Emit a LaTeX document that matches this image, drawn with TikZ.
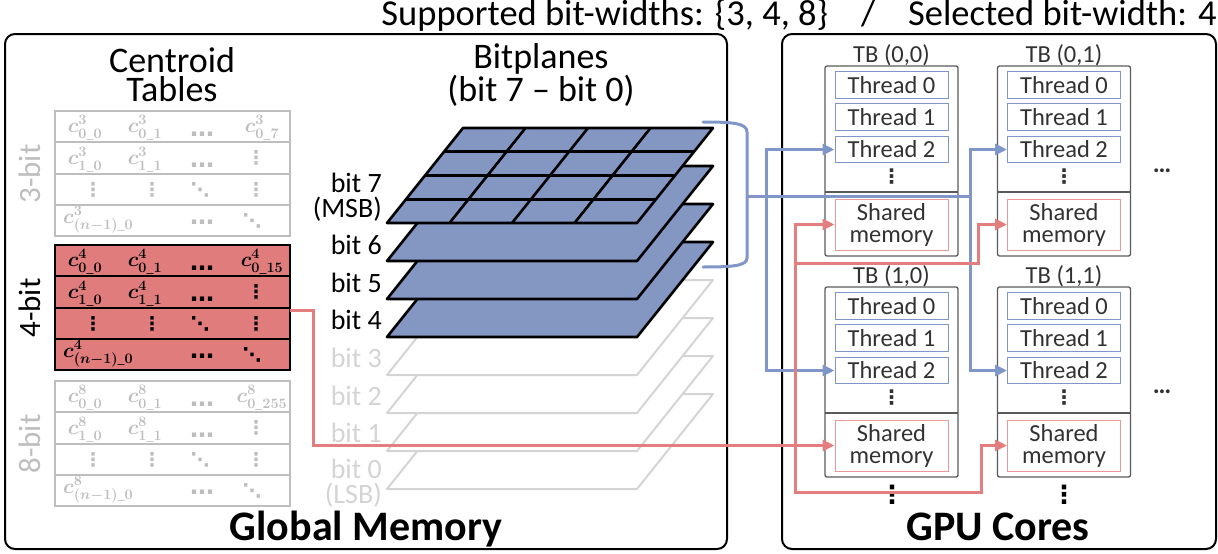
\documentclass[tikz,border=0pt]{standalone}
\usepackage{amsmath,amssymb}
\usepackage[no-math]{fontspec}
\setmainfont{Carlito}
\newfontfamily\dotfont{DejaVu Sans}
\usepackage{xcolor}
\usetikzlibrary{arrows.meta}

\definecolor{planeblue}{RGB}{132,151,195}
\definecolor{tabred}{RGB}{224,124,124}
\definecolor{lineblue}{RGB}{128,150,200}
\definecolor{linered}{RGB}{228,126,126}
\definecolor{tabgrey}{RGB}{190,190,190}
\definecolor{planegrey}{RGB}{212,212,212}
\definecolor{tbgrey}{RGB}{90,90,90}
\definecolor{txtgrey}{RGB}{50,50,50}

\begin{document}
\begin{tikzpicture}[x=1pt,y=-1pt]
	\tikzstyle{panel} = [draw=black, line width=2, rounded corners=10]
	\tikzstyle{tbbox} = [draw=tbgrey, line width=1.3, rounded corners=2]
	\tikzstyle{thread} = [draw=lineblue, line width=1, minimum width=113, minimum height=26.5, inner sep=0, text=txtgrey, font=\fontsize{24.5}{26}\selectfont]
	\tikzstyle{shmem} = [draw=linered!80, line width=1, minimum width=113, minimum height=51, inner sep=0, align=center, text=txtgrey, font=\fontsize{24.5}{22}\selectfont]
	\tikzstyle{gplane} = [draw=planegrey, fill=white, line width=2, line join=round]
	\tikzstyle{bplane} = [draw=black, fill=planeblue, line width=2.6, line join=round]
	\tikzstyle{bline} = [draw=lineblue, line width=3]
	\tikzstyle{rline} = [draw=linered, line width=3]
	\tikzstyle{tip} = [-{Triangle[length=12,width=11]}]
	\tikzstyle{dots} = [inner sep=0, font=\dotfont\bfseries\fontsize{19}{19}\selectfont]
	\tikzstyle{entry} = [inner sep=0, font=\fontsize{20}{20}\selectfont\boldmath]
	\tikzstyle{bitlabel} = [anchor=east, align=right, inner sep=1, font=\fontsize{28}{25}\selectfont]
	\useasboundingbox (0,0) rectangle (1218,554);

	% title and panels
	\node[anchor=base east, inner sep=0, font=\fontsize{36.5}{36}\selectfont] (title) at (1217,25)
		{Supported bit-widths: \{3, 4, 8\}\ \ \ \ /\ \ \ \ Selected bit-width: 4};
	\draw[panel] (5,34) rectangle (727,549);
	\draw[panel] (782,34) rectangle (1216,549);
	\node[anchor=base, inner sep=0, font=\fontsize{42}{42}\selectfont\bfseries] (gm) at (366,540) {Global Memory};
	\node[anchor=base, inner sep=0, font=\fontsize{42}{42}\selectfont\bfseries] (gc) at (998,540) {GPU Cores};
	\node[align=center, inner sep=0, font=\fontsize{36}{29}\selectfont] (ctab) at (172,75) {Centroid\\Tables};
	\node[align=center, inner sep=0, font=\fontsize{36}{29}\selectfont] (bpl) at (541,75) {Bitplanes\\(bit 7 -- bit 0)};

	% centroid tables
	\foreach \ty/\s/\l/\col/\fil/\nm in {111/3/7/tabgrey/white/3-bit, 245/4/15/black/tabred/4-bit, 381/8/255/tabgrey/white/8-bit} {
		\foreach \r in {0,...,3}
			\draw[draw=\col, fill=\fil, line width=2] (55,\ty+31.3*\r) rectangle (290,\ty+31.3*\r+31.3);
		\begin{scope}[\col]
			\node[entry, anchor=base] at (85,\ty+21.5) {$c^{\s}_{0\_0}$};
			\node[entry, anchor=base] at (145,\ty+21.5) {$c^{\s}_{0\_1}$};
			\node[entry, anchor=base] at (262,\ty+21.5) {$c^{\s}_{0\_\l}$};
			\node[entry, anchor=base] at (85,\ty+53) {$c^{\s}_{1\_0}$};
			\node[entry, anchor=base] at (145,\ty+53) {$c^{\s}_{1\_1}$};
			\node[entry, anchor=base west] at (63,\ty+112) {$c^{\s}_{(n-1)\_0}$};
			\node[dots, anchor=base] at (202,\ty+25) {\bfseries\fontsize{24}{24}\selectfont …};
			\node[dots, anchor=base] at (202,\ty+56) {\bfseries\fontsize{24}{24}\selectfont …};
			\node[dots, anchor=base] at (202,\ty+113) {\bfseries\fontsize{24}{24}\selectfont …};
			\node[dots] at (256,\ty+47) {⋮};
			\node[dots] at (93,\ty+79) {⋮};
			\node[dots] at (152,\ty+79) {⋮};
			\node[dots] at (200,\ty+79) {⋱};
			\node[dots] at (256,\ty+79) {⋮};
			\node[dots] at (252,\ty+110) {⋱};
		\end{scope}
		\node[rotate=90, inner sep=0, text=\col, font=\fontsize{31}{31}\selectfont] at (30,\ty+63) {\nm};
	}
	\coordinate (c4row) at (290,310);

	% bitplanes
	\foreach \k in {0,...,3}
		\draw[gplane] (387,489-38*\k) -- (637,489-38*\k) -- (713,394-38*\k) -- (463,394-38*\k) -- cycle;
	\foreach \k in {4,...,7}
		\draw[bplane] (387,489-38*\k) -- (637,489-38*\k) -- (713,394-38*\k) -- (463,394-38*\k) -- cycle;
	\foreach \i in {1,2,3} {
		\draw[line width=2.6] (387+19*\i,223-23.75*\i) -- (637+19*\i,223-23.75*\i);
		\draw[line width=2.6] (387+62.5*\i,223) -- (463+62.5*\i,128);
	}
	\node[bitlabel] (b7) at (383,197) {bit 7\\(MSB)};
	\node[bitlabel] (b6) at (383,245) {bit 6};
	\node[bitlabel] (b5) at (383,283) {bit 5};
	\node[bitlabel] (b4) at (383,320) {bit 4};
	\node[bitlabel, text=planegrey] (b3) at (383,358) {bit 3};
	\node[bitlabel, text=planegrey] (b2) at (383,396) {bit 2};
	\node[bitlabel, text=planegrey] (b1) at (383,433) {bit 1};
	\node[bitlabel, text=planegrey] (b0) at (383,483) {bit 0\\(LSB)};

	% thread blocks
	\foreach \row/\dy in {0/0, 1/221} {
		\foreach \cl/\cx in {0/891.5, 1/1064} {
			\draw[tbbox] (\cx-66.5,66+\dy) rectangle (\cx+66.5,256+\dy);
			\draw[tbgrey, line width=1.3] (\cx-66.5,192+\dy) -- (\cx+66.5,192+\dy);
			\node[inner sep=0, text=txtgrey, font=\fontsize{24.5}{26}\selectfont] (tb\row\cl) at (\cx,55+\dy) {TB (\row,\cl)};
			\node[thread] (ta\row\cl) at (\cx,85+\dy) {Thread 0};
			\node[thread] (tb\row\cl) at (\cx,117+\dy) {Thread 1};
			\node[thread] (tc\row\cl) at (\cx,149.5+\dy) {Thread 2};
			\node[dots, text=txtgrey, font=\dotfont\bfseries\fontsize{20}{20}\selectfont] (td\row\cl) at (\cx,177+\dy) {⋮};
			\node[shmem] (sm\row\cl) at (\cx,224.5+\dy) {Shared\\memory};
		}
		\node[anchor=base, inner sep=0, text=txtgrey, font=\bfseries\fontsize{26}{26}\selectfont] (more\row) at (1162,172+\dy) {…};
	}
	\node[dots, font=\dotfont\bfseries\fontsize{25}{25}\selectfont] (down0) at (892,495) {⋮};
	\node[dots, font=\dotfont\bfseries\fontsize{25}{25}\selectfont] (down1) at (1064,495) {⋮};

	% blue connectors (bits 7-4 to threads)
	\draw[bline, line cap=round] (703,122) .. controls (732,122) and (747,123) .. (747,132) -- (747,258) .. controls (747,266) and (732,267) .. (703,267);
	\coordinate (brace) at (747,196);
	\coordinate (bj1) at (766,196);
	\coordinate (bj2) at (970,196);
	\draw[bline] (brace) -- (bj2);
	\draw[bline, tip] (bj1) |- (tc00.west);
	\draw[bline, tip] (bj1) |- (tc10.west);
	\draw[bline, tip] (bj2) |- (tc01.west);
	\draw[bline, tip] (bj2) |- (tc11.west);

	% red connectors (4-bit table to shared memory)
	\coordinate (rj1) at (795,263);
	\coordinate (rj2) at (795,445);
	\draw[rline, tip] (c4row) -- (313,310) |- (sm10.west);
	\draw[rline, tip] (rj2) |- (sm00.west);
	\draw[rline, tip] (rj1) -| ([xshift=-29]sm01.west) -- (sm01.west);
	\draw[rline, tip] (rj2) -- (795,492) -| ([xshift=-26]sm11.west) -- (sm11.west);
\end{tikzpicture}
\end{document}
